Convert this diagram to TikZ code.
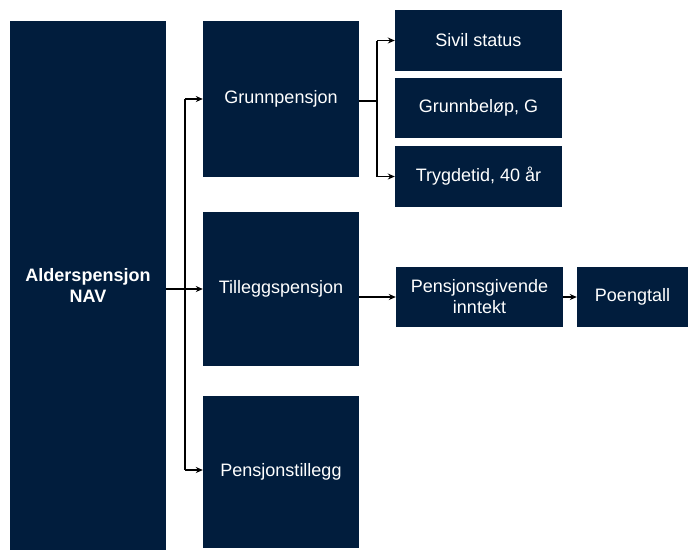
\documentclass[tikz,border=0pt]{standalone}
\usepackage{fontspec}
\setmainfont{Liberation Sans}
\usetikzlibrary{arrows.meta}
\definecolor{navy}{RGB}{1,29,61}
\begin{document}
\begin{tikzpicture}[x=1pt,y=-1pt,
  box/.style={fill=navy,draw=none,text=white,align=center,inner sep=0pt,
    font=\fontsize{18}{21}\selectfont},
  conn/.style={line width=1.3pt,black},
  arr/.style={conn,-{Stealth[length=7pt,width=6pt]}}]
\useasboundingbox (0,0) rectangle (688,550);
\node[box,minimum width=156pt,minimum height=529pt,font=\fontsize{18}{21}\selectfont\bfseries] (alder) at (88,285.5) {Alderspensjon\\NAV};
\node[box,minimum width=156pt,minimum height=156pt] (grunn) at (281,99) {Grunnpensjon};
\node[box,minimum width=156pt,minimum height=154pt] (tillegg) at (281,289) {Tilleggspensjon};
\node[box,minimum width=156pt,minimum height=152pt] (pstill) at (281,472) {Pensjonstillegg};
\node[box,minimum width=167pt,minimum height=61pt] (sivil) at (478.5,40.5) {Sivil status};
\node[box,minimum width=167pt,minimum height=60pt] (gbelop) at (478.5,108) {Grunnbeløp, G};
\node[box,minimum width=167pt,minimum height=61pt] (trygd) at (478.5,176.5) {Trygdetid, 40 år};
\node[box,minimum width=167pt,minimum height=60pt] (pgi) at (479.5,297) {Pensjonsgivende\\inntekt};
\node[box,minimum width=111pt,minimum height=60pt] (poeng) at (632.5,297) {Poengtall};
% trunk from Alderspensjon
\coordinate (jt) at (185,99);
\coordinate (jm) at (185,289);
\coordinate (jb) at (185,470);
\draw[conn] (alder.east |- jm) -- (jm);
\draw[conn] (jt) -- (jb);
\draw[arr] (jt) -- (grunn.west);
\draw[arr] (jm) -- (tillegg.west);
\draw[arr] (jb) -- (jb -| pstill.west);
% Grunnpensjon branch
\coordinate (gm) at (377,101);
\coordinate (gt) at (377,40.5);
\coordinate (gb) at (377,176.5);
\draw[conn] (gm -| grunn.east) -- (gm);
\draw[conn] (gt) -- (gb);
\draw[arr] (gt) -- (sivil.west);
\draw[arr] (gb) -- (trygd.west);
% Tilleggspensjon branch
\draw[arr] (tillegg.east |- pgi.west) -- (pgi.west);
\draw[arr] (pgi.east) -- (poeng.west);
\end{tikzpicture}
\end{document}
